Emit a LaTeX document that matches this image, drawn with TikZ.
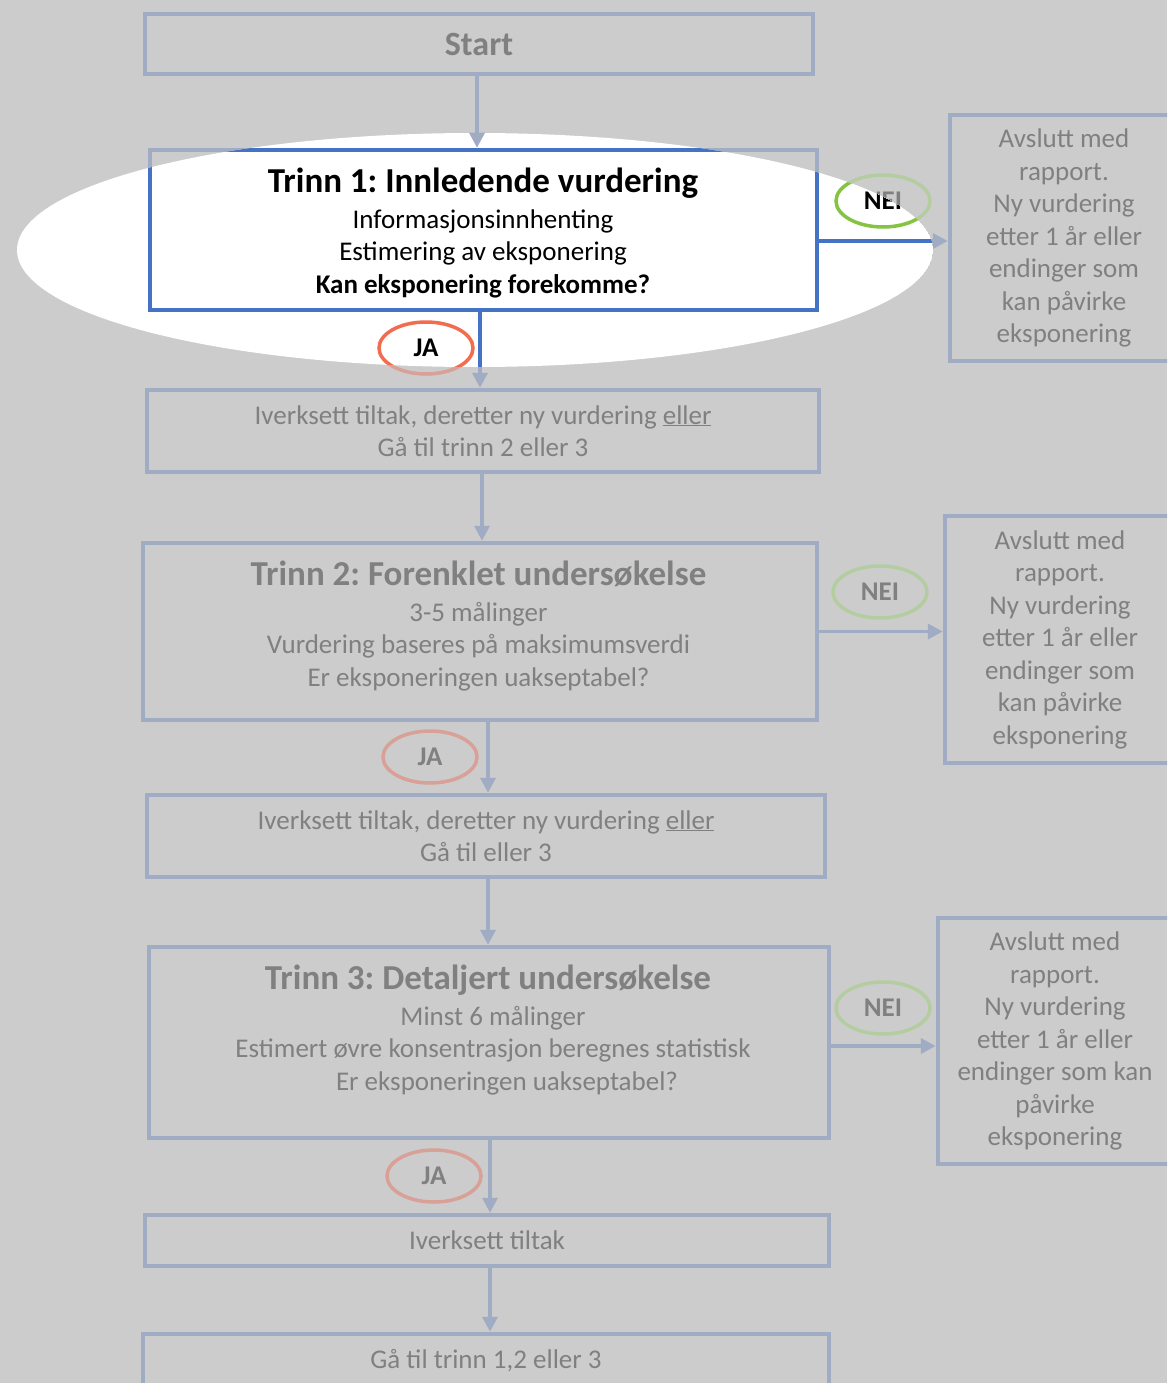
\documentclass[tikz,border=0pt]{standalone}
\usepackage{fontspec}
\setmainfont{Carlito}
\frenchspacing
\usetikzlibrary{arrows.meta,shapes.geometric}
\definecolor{bg}{HTML}{CCCCCC}
\definecolor{fline}{HTML}{A0ACC4}
\definecolor{ftext}{HTML}{808080}
\definecolor{fgreen}{HTML}{B4CDA0}
\definecolor{fred}{HTML}{D8A096}
\definecolor{hblue}{HTML}{4472C4}
\definecolor{hgreen}{HTML}{84C441}
\definecolor{hred}{HTML}{F26C4F}
\newcommand\bodyfont{\fontsize{27}{32.5}\selectfont}
\newcommand\titlefont{\fontsize{35}{40}\selectfont\bfseries}
\newcommand\startfont{\fontsize{34}{40}\selectfont\bfseries}
\newcommand\labelfont{\fontsize{27}{32}\selectfont\bfseries}
\tikzset{
  fbox/.style={draw=fline, line width=4.5pt, rectangle, inner sep=0pt, text=ftext, align=center, font=\bodyfont},
  ftxt/.style={text=ftext, align=center, inner sep=0pt, font=\bodyfont},
  flabel/.style={ellipse, line width=3.5pt, minimum width=94pt, minimum height=52pt, inner sep=0pt, text=ftext, font=\labelfont},
  farr/.style={draw=fline, line width=3.5pt, -{Triangle[length=15pt,width=15pt]}},
  hibox/.style={draw=hblue, line width=4.5pt, rectangle, inner sep=0pt},
  hitxt/.style={text=black, align=center, inner sep=0pt, font=\bodyfont},
  hilabel/.style={ellipse, line width=3.5pt, minimum width=94pt, minimum height=52pt, inner sep=0pt, text=black, font=\labelfont},
  hiline/.style={draw=hblue, line width=3.5pt}
}
\begin{document}
\begin{tikzpicture}[x=1pt,y=-1pt]
\useasboundingbox (0,0) rectangle (1167,1383);
\fill[bg] (0,0) rectangle (1167,1383);
\clip (0,0) rectangle (1167,1383);

% faded layer: boxes
\node[fbox, minimum width=668pt, minimum height=60pt, font=\startfont] (start) at (479,44) {Start};
\node[fbox, minimum width=667pt, minimum height=160pt] (t1) at (483.5,230) {};
\node[fbox, minimum width=672pt, minimum height=82pt] (a1) at (483,431)
  {Iverksett tiltak, deretter ny vurdering \underline{eller}\\Gå til trinn 2 eller 3};
\node[fbox, minimum width=674pt, minimum height=177pt] (t2) at (480,631.5) {};
\node[ftxt] (t2txt) at (478.5,626)
  {{\titlefont Trinn 2: Forenklet undersøkelse}\\[3pt]3-5 målinger\\Vurdering baseres på maksimumsverdi\\Er eksponeringen uakseptabel?};
\node[fbox, minimum width=678pt, minimum height=82pt] (a2) at (486,836)
  {Iverksett tiltak, deretter ny vurdering \underline{eller}\\Gå til eller 3};
\node[fbox, minimum width=680pt, minimum height=191pt] (t3) at (489,1042.5) {};
\node[ftxt] (t3txt) at (493,1030)
  {{\titlefont Trinn 3: Detaljert undersøkelse}\hspace*{10pt}\\[3pt]Minst 6 målinger\\Estimert øvre konsentrasjon beregnes statistisk\\\hspace*{28pt}Er eksponeringen uakseptabel?};
\node[fbox, minimum width=684pt, minimum height=51pt] (a3) at (487,1240.5) {Iverksett tiltak};
\node[fbox, minimum width=686pt, minimum height=54pt] (goto) at (486,1361) {Gå til trinn 1,2 eller 3};

\node[fbox, minimum width=228pt, minimum height=246pt] (r1) at (1064,238)
  {Avslutt med\\rapport.\\Ny vurdering\\etter 1 år eller\\endinger som\\kan påvirke\\eksponering};
\node[fbox, minimum width=230pt, minimum height=247pt] (r2) at (1060,639.5)
  {Avslutt med\\rapport.\\Ny vurdering\\etter 1 år eller\\endinger som\\kan påvirke\\eksponering};
\node[fbox, minimum width=234pt, minimum height=246pt] (r3) at (1055,1041)
  {Avslutt med\\rapport.\\Ny vurdering\\etter 1 år eller\\endinger som kan\\påvirke\\eksponering};

% faded labels
\node[flabel, draw=fgreen] (n1) at (883,201) {NEI};
\node[flabel, draw=fred] (j1) at (426,348) {JA};
\node[flabel, draw=fgreen] (n2) at (880,592) {NEI};
\node[flabel, draw=fred] (j2) at (430,757) {JA};
\node[flabel, draw=fgreen] (n3) at (883,1008) {NEI};
\node[flabel, draw=fred] (j3) at (434,1176) {JA};

% faded connectors
\draw[farr] ([xshift=-3.5pt]t1.south) -- ([xshift=-3.5pt]t1.south |- a1.north);
\draw[farr] ([xshift=-1pt]a1.south) -- ([xshift=-1pt]a1.south |- t2.north);
\draw[farr] ([xshift=8pt]t2.south) -- ([xshift=8pt]t2.south |- a2.north);
\draw[farr] ([xshift=2pt]a2.south) -- ([xshift=2pt]a2.south |- t3.north);
\draw[farr] ([xshift=1pt]t3.south) -- ([xshift=1pt]t3.south |- a3.north);
\draw[farr] ([xshift=3pt]a3.south) -- ([xshift=3pt]a3.south |- goto.north);
\draw[farr] ([yshift=-11pt]t1.east) -- ([yshift=-11pt]t1.east -| r1.west);
\draw[farr] (t2.east) -- (t2.east -| r2.west);
\draw[farr] ([yshift=-3.5pt]t3.east) -- ([yshift=-3.5pt]t3.east -| r3.west);

% highlighted spotlight
\begin{scope}
  \clip (475,250) ellipse [x radius=458, y radius=117];
  \fill[white] (475,250) ellipse [x radius=458, y radius=117];
  \node[hibox, minimum width=667pt, minimum height=160pt] (t1h) at (483.5,230) {};
  \node[hitxt] (t1htxt) at (483,233)
    {{\titlefont Trinn 1: Innledende vurdering}\\[3pt]Informasjonsinnhenting\\Estimering av eksponering\\\textbf{Kan eksponering forekomme?}};
  \node[hilabel, draw=hgreen] (n1h) at (883,201) {NEI};
  \node[hilabel, draw=hred] (j1h) at (426,348) {JA};
  \draw[hiline] ([xshift=-3.5pt]t1h.south) -- ([xshift=-3.5pt]t1h.south |- a1.north);
  \draw[hiline] ([yshift=-11pt]t1h.east) -- ([yshift=-11pt]t1h.east -| r1.west);
\end{scope}
\draw[farr] ([xshift=-2pt]start.south) -- ([xshift=-2pt]start.south |- t1.north);
\end{tikzpicture}
\end{document}
